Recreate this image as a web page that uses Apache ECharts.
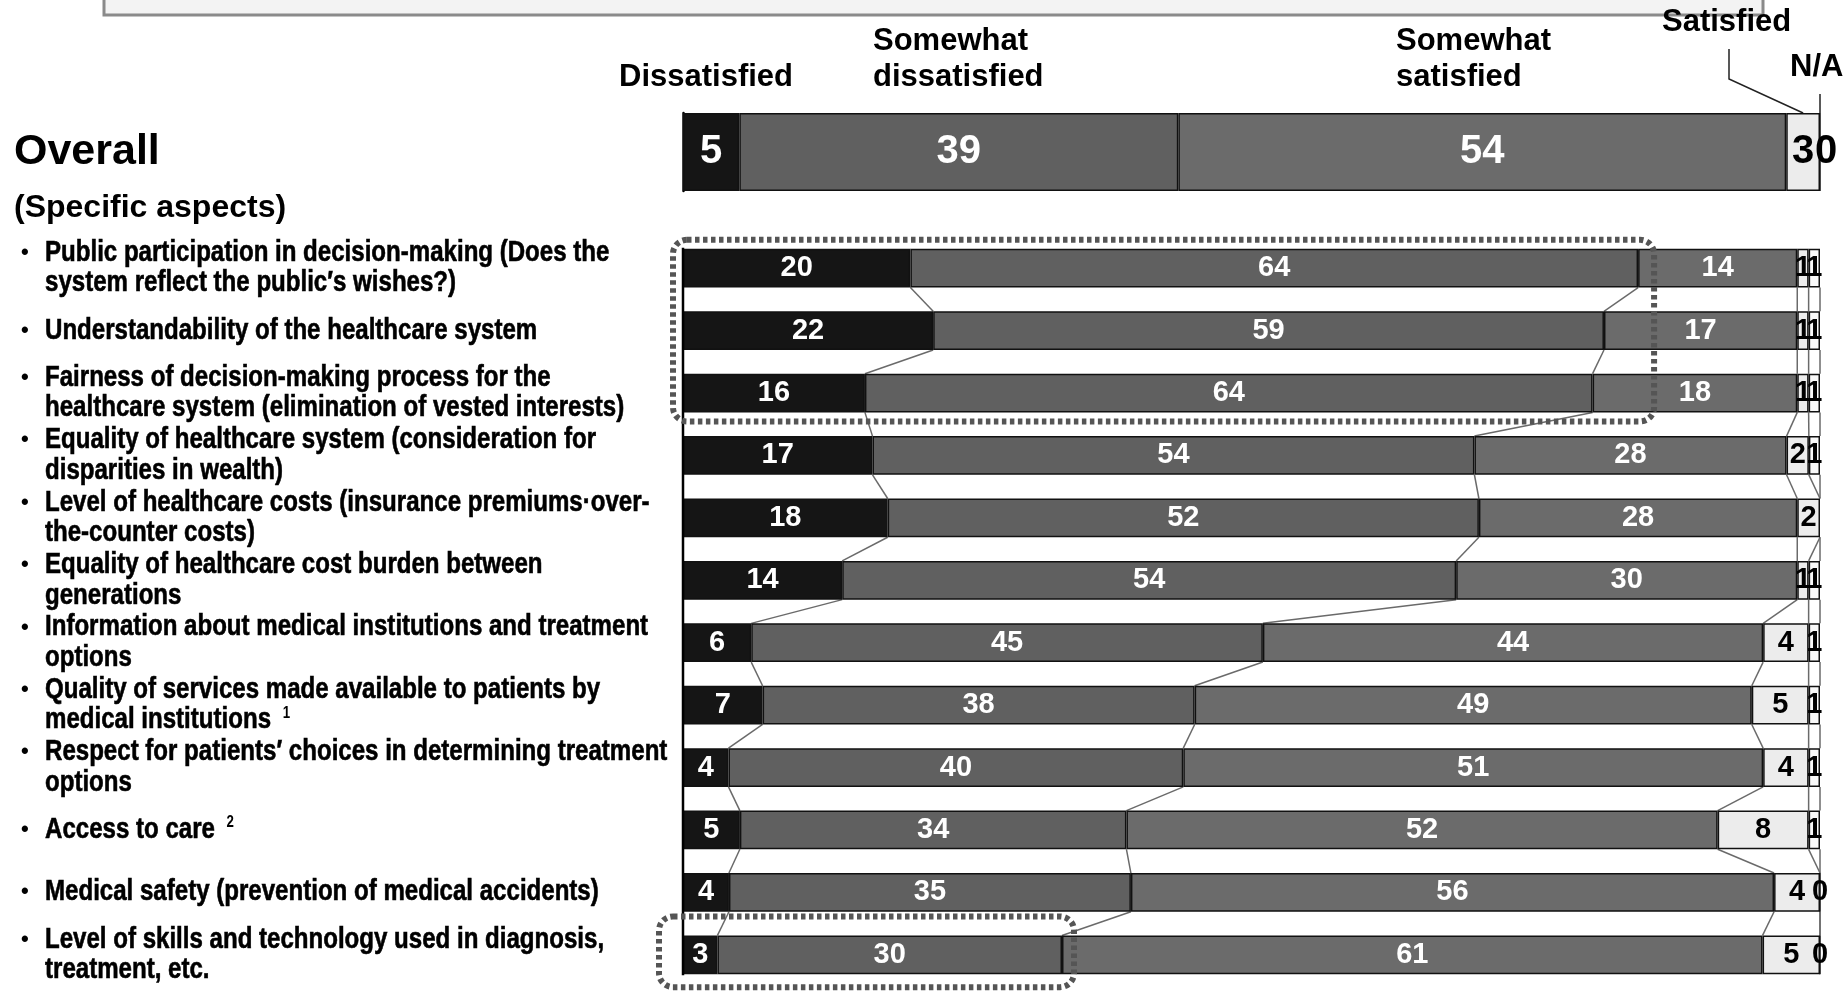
<!DOCTYPE html>
<html>
<head>
<meta charset="utf-8">
<script src="https://cdn.jsdelivr.net/npm/echarts@6/dist/echarts.min.js"></script>
<style>
  html, body { margin: 0; padding: 0; background: #ffffff; }
  #chart { width: 1846px; height: 991px; }
</style>
</head>
<body>
<div id="chart"></div>
<script>
// ---- Survey data: satisfaction with the healthcare system (%) ----
const seriesNames = ['Dissatisfied', 'Somewhat dissatisfied', 'Somewhat satisfied', 'Satisfied', 'N/A'];

const overallCategory = ['Overall'];
const overallValues = [5, 39, 54, 3, 0];

const aspects = [
  'Public participation in decision-making (Does the\nsystem reflect the public\u2032s wishes?)',
  'Understandability of the healthcare system',
  'Fairness of decision-making process for the\nhealthcare system (elimination of vested interests)',
  'Equality of healthcare system (consideration for\ndisparities in wealth)',
  'Level of healthcare costs (insurance premiums\u00b7over-\nthe-counter costs)',
  'Equality of healthcare cost burden between\ngenerations',
  'Information about medical institutions and treatment\noptions',
  'Quality of services made available to patients by\nmedical institutions',
  'Respect for patients\u2032 choices in determining treatment\noptions',
  'Access to care',
  'Medical safety (prevention of medical accidents)',
  'Level of skills and technology used in diagnosis,\ntreatment, etc.'
];
const footnotes = ['', '', '', '', '', '', '', '1', '', '2', '', ''];

const dissatisfied         = [20, 22, 16, 17, 18, 14,  6,  7,  4,  5,  4,  3];
const somewhatDissatisfied = [64, 59, 64, 54, 52, 54, 45, 38, 40, 34, 35, 30];
const somewhatSatisfied    = [14, 17, 18, 28, 28, 30, 44, 49, 51, 52, 56, 61];
const satisfied            = [ 1,  1,  1,  2,  2,  1,  4,  5,  4,  8,  4,  5];
const noAnswer             = [ 1,  1,  1,  1, null, 1,  1,  1,  1,  1,  0,  0];

// ---- Styling ----
const fills = ['#151515', '#606060', '#6b6b6b', '#ececec', '#f9f9f9'];
const labelColors = ['#ffffff', '#ffffff', '#ffffff', '#000000', '#000000'];
const SANS = '"Liberation Sans", Arial, sans-serif';
const BAR_RATIO = 0.62;
const NARROW_SCALE = 0.83;   // condensed face for the aspect descriptions

const GRID_LEFT = 683;
const GRID_WIDTH = 1137;

// 100% stacked bars: each row is scaled to its own total
const rawRows = [dissatisfied, somewhatDissatisfied, somewhatSatisfied, satisfied, noAnswer];
const nRows = aspects.length;
const rowTotals = aspects.map((_, i) => rawRows.reduce((s, arr) => s + (arr[i] || 0), 0));
const pct = rawRows.map(arr => arr.map((v, i) => v == null ? null : v / rowTotals[i] * 100));
const cum = [];
rawRows.forEach((arr, k) => {
  cum.push(arr.map((v, i) => Math.min(100, (k ? cum[k - 1][i] : 0) + (pct[k][i] || 0))));
});
const overallTotal = overallValues.reduce((s, v) => s + v, 0);
const overallPct = overallValues.map(v => v / overallTotal * 100);

const chart = echarts.init(document.getElementById('chart'), null, { renderer: 'canvas' });

const series = [];
// Overall bar
overallValues.forEach((v, k) => {
  series.push({
    name: seriesNames[k],
    type: 'bar',
    xAxisIndex: 0, yAxisIndex: 0,
    stack: 'overall',
    barWidth: '100%',
    clip: false,
    data: [overallPct[k]],
    itemStyle: { color: fills[k], borderColor: '#111', borderWidth: 1.5 },
    label: {
      show: true, position: 'inside',
      offset: k === 4 ? [6, 0] : [0, 0],
      formatter: () => String(overallValues[k]),
      color: labelColors[k], fontFamily: SANS, fontWeight: 'bold', fontSize: 40
    },
    emphasis: { disabled: true },
    animation: false
  });
});
// Specific aspects
rawRows.forEach((arr, k) => {
  series.push({
    name: seriesNames[k],
    type: 'bar',
    xAxisIndex: 1, yAxisIndex: 1,
    stack: 'aspects',
    barWidth: (BAR_RATIO * 100) + '%',
    clip: false,
    data: pct[k],
    itemStyle: { color: fills[k], borderColor: '#111', borderWidth: 1.5 },
    label: {
      show: true, position: 'inside',
      formatter: p => (arr[p.dataIndex] == null ? '' : String(arr[p.dataIndex])),
      color: labelColors[k], fontFamily: SANS, fontWeight: 'bold', fontSize: 29
    },
    emphasis: { disabled: true },
    animation: false
  });
});
// Series lines joining segment boundaries of neighbouring rows
series.push({
  type: 'custom',
  xAxisIndex: 1, yAxisIndex: 1,
  z: 1,
  silent: true,
  animation: false,
  clip: false,
  data: aspects.map((_, i) => [0, i]),
  encode: { x: 0, y: 1 },
  renderItem: function (params, api) {
    const i = api.value(1);
    if (i >= nRows - 1) return null;
    const half = api.size([0, 1])[1] * BAR_RATIO / 2;
    const children = [];
    for (let k = 0; k < cum.length; k++) {
      const a = api.coord([cum[k][i], i]);
      const b = api.coord([cum[k][i + 1], i + 1]);
      children.push({
        type: 'line',
        shape: { x1: a[0], y1: a[1] + half, x2: b[0], y2: b[1] - half },
        style: { stroke: '#6a6a6a', lineWidth: 1.5 }
      });
    }
    return { type: 'group', children };
  }
});

chart.setOption({
  animation: false,
  backgroundColor: '#ffffff',
  grid: [
    { left: GRID_LEFT, width: GRID_WIDTH, top: 113, height: 78 },
    { left: GRID_LEFT, width: GRID_WIDTH, top: 237, height: 749 }
  ],
  xAxis: [
    { gridIndex: 0, type: 'value', min: 0, max: 100, show: false },
    { gridIndex: 1, type: 'value', min: 0, max: 100, show: false }
  ],
  yAxis: [
    {
      gridIndex: 0, type: 'category', data: overallCategory,
      axisLine: { show: true, lineStyle: { color: '#000', width: 2.5 } },
      axisTick: { show: false },
      axisLabel: {
        margin: GRID_LEFT - 14, align: 'left',
        fontFamily: SANS, fontWeight: 'bold', fontSize: 43, color: '#000'
      }
    },
    {
      gridIndex: 1, type: 'category', data: aspects, inverse: true,
      axisLine: { show: false },
      axisTick: { show: false },
      axisLabel: { show: false }
    }
  ],
  series: series
});

// ---- Text and annotations placed from the axis scales ----
function px(grid, x, y) { return chart.convertToPixel({ gridIndex: grid }, [x, y]); }
const band = px(1, 0, 1)[1] - px(1, 0, 0)[1];
const halfBar = band * BAR_RATIO / 2;
function rowMid(i) { return px(1, 0, i)[1]; }
function rowTop(i) { return rowMid(i) - halfBar; }
function rowBottom(i) { return rowMid(i) + halfBar; }
const axisX = px(1, 0, 0)[0];

const aspectRich = {
  t: { fontFamily: SANS, fontWeight: 'bold', fontSize: 29, fill: '#000', lineHeight: 30.5,
       stroke: '#000', lineWidth: 0.6 },
  s: { fontFamily: SANS, fontWeight: 'bold', fontSize: 16, fill: '#000', lineHeight: 30.5,
       verticalAlign: 'top', padding: [0, 0, 0, 14] }
};
const aspectTexts = [];
aspects.forEach((label, i) => {
  const lines = label.split('\n');
  const rich = lines.map((line, j) => {
    let s = '{t|' + line + '}';
    if (j === lines.length - 1 && footnotes[i]) s += '{s|' + footnotes[i] + '}';
    return s;
  }).join('\n');
  const firstLineY = rowMid(i) - (lines.length - 1) * 30.5 / 2;
  aspectTexts.push({
    type: 'text', x: 21, y: firstLineY,
    style: { text: '\u2022', font: 'bold 22px ' + SANS, fill: '#000', verticalAlign: 'middle' }
  });
  aspectTexts.push({
    type: 'text', x: 45, y: rowMid(i), scaleX: NARROW_SCALE,
    style: { text: rich, rich: aspectRich, verticalAlign: 'middle', align: 'left' }
  });
});

// highlighted groups: the first three aspects (dissatisfied side), and the last aspect
const grp1Right = Math.max(cum[1][0], cum[1][1], cum[1][2]);
const g1x0 = axisX - 10;
const g1x1 = px(1, grp1Right, 0)[0] + 16;
const g1y0 = rowTop(0) - 9;
const g1y1 = rowBottom(2) + 9;
const last = nRows - 1;
const g2x0 = axisX - 24;
const g2x1 = px(1, cum[1][last], last)[0] + 12;
const g2y0 = rowTop(last) - 19;
const g2y1 = rowBottom(last) + 13;

const overallTop = px(0, 0, 0)[1] - 39;
const satMid = px(0, overallPct[0] + overallPct[1] + overallPct[2] + overallPct[3] / 2, 0)[0];
const barEnd = px(0, 100, 0)[0];

const dashStyle = { fill: null, stroke: '#555555', lineWidth: 6, lineDash: [4.5, 3.5] };
const headFont = 'bold 31px ' + SANS;

chart.setOption({
  graphic: [
    { type: 'rect', shape: { x: 104, y: -20, width: 1659, height: 35 },
      style: { fill: '#f3f3f3', stroke: '#8a8a8a', lineWidth: 3 }, z: 0 },
    { type: 'text', style: { x: 619, y: 77, text: 'Dissatisfied', font: headFont, fill: '#000', verticalAlign: 'middle' } },
    { type: 'text', style: { x: 873, y: 59, text: 'Somewhat\ndissatisfied', font: headFont, fill: '#000', lineHeight: 36, verticalAlign: 'middle' } },
    { type: 'text', style: { x: 1396, y: 59, text: 'Somewhat\nsatisfied', font: headFont, fill: '#000', lineHeight: 36, verticalAlign: 'middle' } },
    { type: 'text', style: { x: 1662, y: 22, text: 'Satisfied', font: headFont, fill: '#000', verticalAlign: 'middle' }, z: 10 },
    { type: 'text', style: { x: 1790, y: 67, text: 'N/A', font: headFont, fill: '#000', verticalAlign: 'middle' } },
    { type: 'polyline', shape: { points: [[1729, 49], [1729, 79], [satMid, overallTop]] },
      style: { stroke: '#222', lineWidth: 1.5, fill: null } },
    { type: 'line', shape: { x1: barEnd, y1: 94, x2: barEnd, y2: overallTop },
      style: { stroke: '#222', lineWidth: 1.5 } },
    { type: 'text', style: { x: 14, y: 208, text: '(Specific aspects)', font: 'bold 32px ' + SANS, fill: '#000', verticalAlign: 'middle' } },
    { type: 'line', shape: { x1: axisX, y1: rowTop(0) - 1, x2: axisX, y2: rowBottom(last) + 1 },
      style: { stroke: '#000', lineWidth: 2.5 }, z: 15 },
    ...aspectTexts,
    { type: 'rect', shape: { x: g1x0, y: g1y0, width: g1x1 - g1x0, height: g1y1 - g1y0, r: 14 },
      style: dashStyle, z: 20 },
    { type: 'rect', shape: { x: g2x0, y: g2y0, width: g2x1 - g2x0, height: g2y1 - g2y0, r: 14 },
      style: dashStyle, z: 20 }
  ]
});
</script>
</body>
</html>
